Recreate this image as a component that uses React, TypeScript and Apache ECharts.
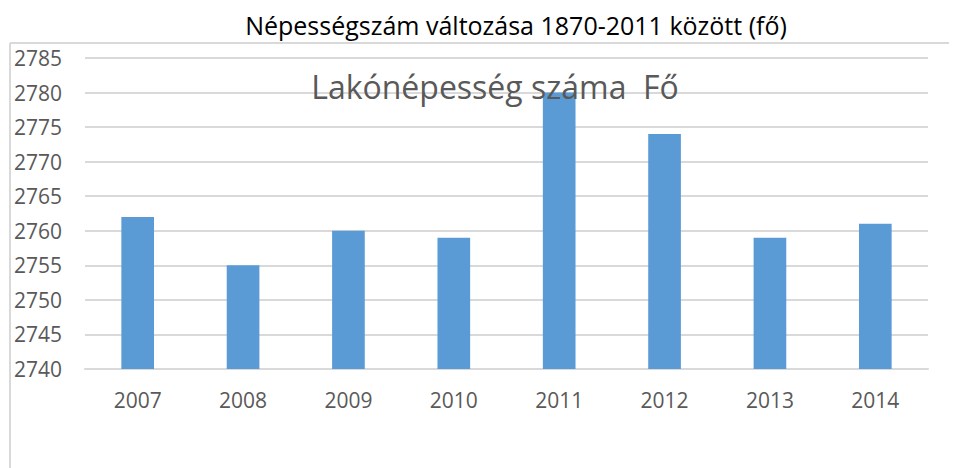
import React, { useEffect, useRef } from "react";
import * as echarts from "echarts";

const years = ["2007", "2008", "2009", "2010", "2011", "2012", "2013", "2014"];
const population = [2762, 2755, 2760, 2759, 2780, 2774, 2759, 2761];
const mainTitle = "Népességszám változása 1870-2011 között (fő)";
const chartTitle = "Lakónépesség száma  Fő";

export default function App() {
  const ref = useRef<HTMLDivElement>(null);
  useEffect(() => {
    if (!ref.current) return;
    const chart = echarts.init(ref.current, null, { renderer: "svg" });
    chart.setOption({
      animation: false,
      backgroundColor: "#ffffff",
      textStyle: { fontFamily: "Open Sans" },
      title: [
        {
          text: mainTitle,
          left: 511,
          top: 7,
          textAlign: "center",
          textStyle: { fontFamily: "Open Sans", fontSize: 25, fontWeight: "normal", color: "#000000" },
        },
        {
          text: chartTitle,
          left: 490,
          top: 65,
          textAlign: "center",
          textStyle: { fontFamily: "Open Sans", fontSize: 32, fontWeight: "normal", color: "#595959" },
        },
      ],
      graphic: [
        { type: "line", shape: { x1: 10, y1: 43, x2: 957, y2: 43 }, style: { stroke: "#d9d9d9", lineWidth: 2 }, z: -1 },
        { type: "line", shape: { x1: 10, y1: 43, x2: 10, y2: 468 }, style: { stroke: "#d9d9d9", lineWidth: 2 }, z: -1 },
      ],
      grid: { left: 85, right: 29, top: 58, bottom: 99 },
      xAxis: {
        type: "category",
        data: years,
        axisLine: { show: true, lineStyle: { color: "#d9d9d9", width: 2 } },
        axisTick: { show: false },
        axisLabel: { color: "#595959", fontSize: 21, margin: 20, fontFamily: "Open Sans" },
      },
      yAxis: {
        type: "value",
        min: 2740,
        max: 2785,
        interval: 5,
        axisLine: { show: false },
        axisTick: { show: false },
        splitLine: { lineStyle: { color: "#d9d9d9", width: 2 } },
        axisLabel: {
          color: "#595959",
          fontSize: 21,
          align: "left",
          margin: 71,
          fontFamily: "Open Sans",
          formatter: (v: number) => String(v),
        },
      },
      series: [
        {
          type: "bar",
          data: population,
          barWidth: "31%",
          itemStyle: { color: "#5b9bd5" },
        },
      ],
    });
    return () => chart.dispose();
  }, []);
  return <div ref={ref} style={{ width: 957, height: 468, marginLeft: -8, marginTop: -8 }} />;
}
